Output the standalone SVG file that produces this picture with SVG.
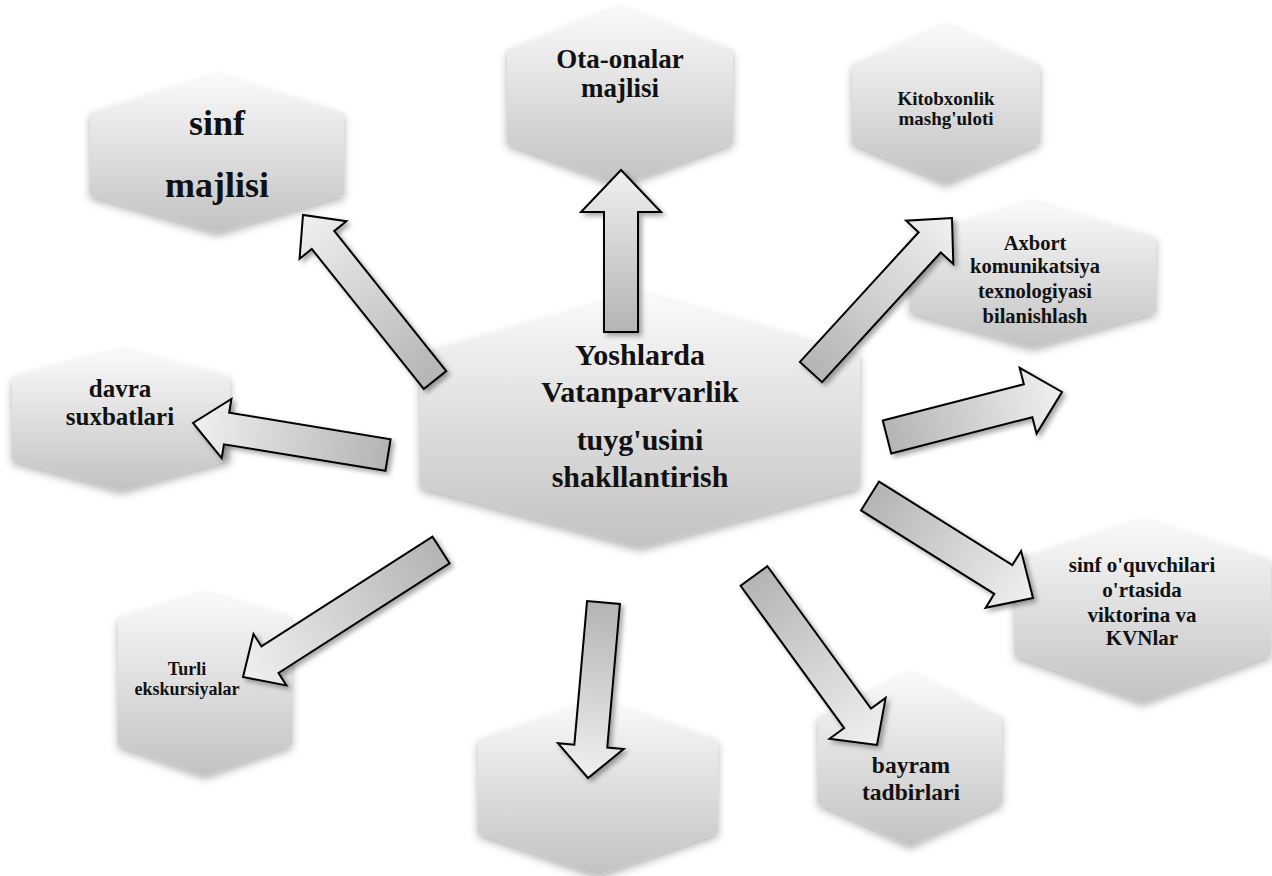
<svg xmlns="http://www.w3.org/2000/svg" width="1272" height="876" viewBox="0 0 1272 876">
<defs>
<linearGradient id="hexg" x1="0" y1="0" x2="0" y2="1">
<stop offset="0" stop-color="#fafafa"/>
<stop offset="1" stop-color="#c2c2c2"/>
</linearGradient>
<linearGradient id="arrg" x1="0" y1="0" x2="1" y2="0">
<stop offset="0" stop-color="#b4b4b4"/>
<stop offset="1" stop-color="#f0f0f0"/>
</linearGradient>
<filter id="hsh" x="-10%" y="-10%" width="120%" height="125%">
<feDropShadow dx="0" dy="4" stdDeviation="4" flood-color="#000" flood-opacity="0.3"/>
</filter>
<filter id="ash" x="-20%" y="-20%" width="140%" height="140%">
<feDropShadow dx="3" dy="3" stdDeviation="2.5" flood-color="#000" flood-opacity="0.35"/>
</filter>
</defs>
<style>
.hex{fill:url(#hexg);filter:url(#hsh);}
.arr{fill:url(#arrg);stroke:#000;stroke-width:2;stroke-linejoin:miter;}
text{font-family:"Liberation Serif","Times New Roman",serif;font-weight:bold;fill:#111;text-anchor:middle;}
</style>
<rect width="1272" height="876" fill="#fff"/>

<g id="node-sinf-majlisi">
<polygon class="hex" points="217,75 344,113 344,195 217,232 90,195 90,113"/>
<text x="217" y="135" font-size="36">sinf</text>
<text x="217" y="197" font-size="36">majlisi</text>
</g>
<g id="node-ota-onalar">
<polygon class="hex" points="620,7 733,50 733,143 620,185 507,143 507,50"/>
<text x="620" y="68" font-size="27">Ota-onalar</text>
<text x="620" y="97" font-size="27">majlisi</text>
</g>
<g id="node-kitobxonlik">
<polygon class="hex" points="946,25 1040,65 1040,143 946,183 852,143 852,65"/>
<text x="946" y="105" font-size="19">Kitobxonlik</text>
<text x="946" y="125" font-size="19">mashg'uloti</text>
</g>
<g id="node-axbort">
<polygon class="hex" points="1033,202 1156,237 1156,312 1033,347 910,312 910,237"/>
<text x="1035" y="250" font-size="20.5">Axbort</text>
<text x="1035" y="273" font-size="20.5">komunikatsiya</text>
<text x="1035" y="298" font-size="20.5">texnologiyasi</text>
<text x="1035" y="323" font-size="20.5">bilanishlash</text>
</g>
<g id="node-davra">
<polygon class="hex" points="121,350 230,377 230,460 121,490 12,460 12,377"/>
<text x="120" y="397" font-size="25">davra</text>
<text x="120" y="425" font-size="25">suxbatlari</text>
</g>
<g id="node-viktorina">
<polygon class="hex" points="1143,520 1271,560 1271,655 1143,702 1015,655 1015,560"/>
<text x="1142" y="572" font-size="21">sinf o'quvchilari</text>
<text x="1142" y="597" font-size="21">o'rtasida</text>
<text x="1142" y="622" font-size="21">viktorina va</text>
<text x="1142" y="645" font-size="21">KVNlar</text>
</g>
<g id="node-turli">
<polygon class="hex" points="205,593 292,618 292,745 205,775 118,745 118,618"/>
<text x="187" y="675" font-size="18">Turli</text>
<text x="187" y="695" font-size="18">ekskursiyalar</text>
</g>
<g id="node-bottom">
<polygon class="hex" points="598,700 718,740 718,833 598,875 478,833 478,740"/>
</g>
<g id="node-bayram">
<polygon class="hex" points="910,673 1002,717 1002,803 910,845 818,803 818,717"/>
<text x="911" y="773" font-size="23.5">bayram</text>
<text x="911" y="800" font-size="23.5">tadbirlari</text>
</g>
<g id="node-center">
<polygon class="hex" points="640,293 860,353 860,487 640,547 420,487 420,353"/>
<text x="640" y="365" font-size="30">Yoshlarda</text>
<text x="640" y="402" font-size="30">Vatanparvarlik</text>
<text x="640" y="450" font-size="30">tuyg'usini</text>
<text x="640" y="487" font-size="30">shakllantirish</text>
</g>

<g id="connectors">
<g filter="url(#ash)"><polygon class="arr" transform="translate(621,332) rotate(-90)" points="0,-17 120,-17 120,-40 162,0 120,40 120,17 0,17"/></g>
<g filter="url(#ash)"><polygon class="arr" transform="translate(435,380) rotate(-128.66)" points="0,-14.4 179.3,-14.4 179.3,-30 211.3,0 179.3,30 179.3,14.4 0,14.4"/></g>
<g filter="url(#ash)"><polygon class="arr" transform="translate(811,372) rotate(-47.53)" points="0,-15 175.8,-15 175.8,-32 208.8,0 175.8,32 175.8,15 0,15"/></g>
<g filter="url(#ash)"><polygon class="arr" transform="translate(887,437) rotate(-14.42)" points="0,-17 145.7,-17 145.7,-34 180.7,0 145.7,34 145.7,17 0,17"/></g>
<g filter="url(#ash)"><polygon class="arr" transform="translate(388,455) rotate(-170.68)" points="0,-16 163.6,-16 163.6,-30 197.6,0 163.6,30 163.6,16 0,16"/></g>
<g filter="url(#ash)"><polygon class="arr" transform="translate(441,550) rotate(147.32)" points="0,-15.8 203.2,-15.8 203.2,-30.5 235.2,0 203.2,30.5 203.2,15.8 0,15.8"/></g>
<g filter="url(#ash)"><polygon class="arr" transform="translate(603.5,602.5) rotate(95.05)" points="0,-16.5 144.2,-16.5 144.2,-33 176.2,0 144.2,33 144.2,16.5 0,16.5"/></g>
<g filter="url(#ash)"><polygon class="arr" transform="translate(754,576) rotate(53.95)" points="0,-16.6 176,-16.6 176,-34.7 209,0 176,34.7 176,16.6 0,16.6"/></g>
<g filter="url(#ash)"><polygon class="arr" transform="translate(870,496) rotate(32.04)" points="0,-17 157.3,-17 157.3,-33.5 192.3,0 157.3,33.5 157.3,17 0,17"/></g>
</g>
</svg>
